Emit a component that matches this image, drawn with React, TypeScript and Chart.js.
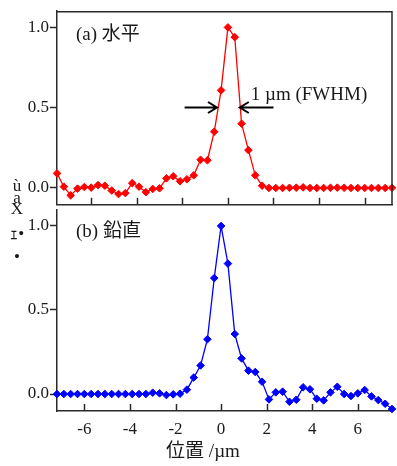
import React, { useEffect, useRef } from "react";
import { Chart, registerables } from "chart.js";

Chart.register(...registerables);

// ---- data ----
const horizontalX = [
  -7.5, -7.2, -6.9, -6.6, -6.3, -6.0, -5.7, -5.4, -5.1, -4.8, -4.5, -4.2, -3.9, -3.6, -3.3, -3.0, -2.7, -2.4,
  -2.1, -1.8, -1.5, -1.2, -0.9, -0.6, -0.3, 0.0, 0.3, 0.6, 0.9, 1.2, 1.5, 1.8, 2.1, 2.4, 2.7, 3.0, 3.3, 3.6,
  3.9, 4.2, 4.5, 4.8, 5.1, 5.4, 5.7, 6.0, 6.3, 6.6, 6.9, 7.2,
];
const horizontalY = [
  0.089, 0.006, -0.048, -0.006, 0.004, 0.0, 0.016, 0.012, -0.018, -0.04, -0.034, 0.028, 0.006, -0.028, -0.008,
  -0.004, 0.058, 0.071, 0.04, 0.052, 0.077, 0.174, 0.171, 0.349, 0.607, 1.0, 0.939, 0.399, 0.234, 0.077, 0.012,
  -0.002, -0.002, -0.002, -0.001, 0.0, 0.002, -0.002, -0.002, -0.002, -0.001, 0.0, -0.001, -0.002, -0.002,
  -0.002, -0.002, -0.002, -0.002, -0.001,
];
const verticalX = [
  -7.2, -6.9, -6.6, -6.3, -6.0, -5.7, -5.4, -5.1, -4.8, -4.5, -4.2, -3.9, -3.6, -3.3, -3.0, -2.7, -2.4, -2.1,
  -1.8, -1.5, -1.2, -0.9, -0.6, -0.3, 0.0, 0.3, 0.6, 0.9, 1.2, 1.5, 1.8, 2.1, 2.4, 2.7, 3.0, 3.3, 3.6, 3.9,
  4.2, 4.5, 4.8, 5.1, 5.4, 5.7, 6.0, 6.3, 6.6, 6.9, 7.2, 7.5,
];
const verticalY = [
  0.0, 0.0, 0.0, 0.0, 0.0, 0.0, 0.0, 0.0, 0.0, 0.0, 0.0, 0.0, 0.0, 0.0, 0.008, 0.004, -0.006, -0.002, 0.002,
  0.026, 0.098, 0.17, 0.326, 0.69, 1.0, 0.776, 0.357, 0.212, 0.139, 0.131, 0.073, -0.032, 0.01, 0.014, -0.046,
  -0.034, 0.04, 0.028, -0.028, -0.038, 0.01, 0.043, 0.0, -0.012, 0.004, 0.024, -0.014, -0.036, -0.058, -0.089,
];
const xTickValues = [-6, -4, -2, 0, 2, 4, 6];
const yTickValues = [0, 0.5, 1.0];
const panelLabelA = "(a) 水平";
const panelLabelB = "(b) 鉛直";
const fwhmLabel = "1 µm (FWHM)";
const fwhmLeftArrow = [-1.9, -0.48];
const fwhmRightArrow = [2.0, 0.52];
const fwhmLevel = 0.5;
const xTitle = "位置 /µm";
const yTitleChars = ["ù", "a", "X", "ｪ•", "•"];

// ---- styles ----
const FONT = "'Liberation Serif', 'Times New Roman', 'Noto Sans CJK JP', serif";
const AXIS = "#2a2a2a";
const TEXT = "#1a1a1a";

function innerTicks(chart: any, scaleId: string) {
  const ctx = chart.ctx;
  const s = chart.scales[scaleId];
  const ca = chart.chartArea;
  ctx.save();
  ctx.strokeStyle = AXIS;
  ctx.lineWidth = 1.5;
  for (const t of s.ticks) {
    const px = Math.round(s.getPixelForValue(t.value)) + 0.5;
    ctx.beginPath();
    ctx.moveTo(px, ca.bottom);
    ctx.lineTo(px, ca.bottom - 7);
    ctx.stroke();
  }
  ctx.restore();
}

function arrow(ctx: any, x0: number, x1: number, y: number) {
  ctx.beginPath();
  ctx.moveTo(x0, y);
  ctx.lineTo(x1, y);
  const dir = x1 > x0 ? 1 : -1;
  ctx.moveTo(x1 - dir * 9, y - 5.5);
  ctx.lineTo(x1, y);
  ctx.lineTo(x1 - dir * 9, y + 5.5);
  ctx.stroke();
}

const topPlugin = {
  id: "topDecor",
  afterDatasetsDraw(chart: any) {
    const ctx = chart.ctx;
    const ca = chart.chartArea;
    const xs = chart.scales.x;
    const ys = chart.scales.y;
    innerTicks(chart, "x");
    ctx.save();
    ctx.strokeStyle = AXIS;
    ctx.lineWidth = 1.5;
    ctx.beginPath();
    ctx.moveTo(ca.left, ca.top + 0.5);
    ctx.lineTo(ca.right, ca.top + 0.5);
    ctx.lineTo(ca.right, ca.bottom);
    ctx.stroke();
    ctx.fillStyle = TEXT;
    ctx.font = `19px ${FONT}`;
    ctx.textBaseline = "middle";
    ctx.textAlign = "left";
    ctx.fillText(panelLabelA, ca.left + 19, ca.top + 24);
    const yp = ys.getPixelForValue(fwhmLevel);
    ctx.strokeStyle = "#000";
    ctx.lineWidth = 2;
    arrow(ctx, xs.getPixelForValue(fwhmLeftArrow[0]), xs.getPixelForValue(fwhmLeftArrow[1]), yp);
    arrow(ctx, xs.getPixelForValue(fwhmRightArrow[0]), xs.getPixelForValue(fwhmRightArrow[1]), yp);
    ctx.fillText(fwhmLabel, xs.getPixelForValue(1.0), yp - 13);
    ctx.restore();
  },
};

const bottomPlugin = {
  id: "bottomDecor",
  afterDatasetsDraw(chart: any) {
    const ctx = chart.ctx;
    const ca = chart.chartArea;
    innerTicks(chart, "x");
    ctx.save();
    ctx.fillStyle = TEXT;
    ctx.font = `19px ${FONT}`;
    ctx.textBaseline = "middle";
    ctx.textAlign = "left";
    ctx.fillText(panelLabelB, ca.left + 19, ca.top + 22);
    ctx.textAlign = "center";
    ctx.font = `19px ${FONT}`;
    ctx.fillText(xTitle, 203, ca.bottom + 41);
    ctx.font = `17px ${FONT}`;
    const ys = [187, 199, 210, 235, 258];
    yTitleChars.forEach((c, i) => {
      ctx.fillText(c, 17, ys[i] - 170);
    });
    ctx.restore();
  },
};

function makeConfig(
  xs: number[],
  vals: number[],
  color: string,
  xMin: number,
  xMax: number,
  yMin: number,
  yMax: number,
  padding: any,
  xHeight: number,
  showXLabels: boolean,
  plugin: any
): any {
  return {
    type: "line",
    data: {
      datasets: [
        {
          data: xs.map((x, i) => ({ x, y: vals[i] })),
          borderColor: color,
          backgroundColor: color,
          borderWidth: 1.3,
          pointStyle: "rectRot",
          pointRadius: 3.8,
          pointBorderWidth: 1,
          pointBorderColor: color,
          pointBackgroundColor: color,
          tension: 0,
          clip: false,
        },
      ],
    },
    options: {
      animation: false,
      responsive: false,
      maintainAspectRatio: false,
      layout: { padding },
      plugins: { legend: { display: false }, tooltip: { enabled: false } },
      scales: {
        x: {
          type: "linear",
          min: xMin,
          max: xMax,
          afterBuildTicks: (s: any) => {
            s.ticks = xTickValues.map((v) => ({ value: v }));
          },
          afterFit: (s: any) => {
            s.height = xHeight;
          },
          ticks: {
            display: showXLabels,
            padding: 8,
            maxRotation: 0,
            autoSkip: false,
            color: TEXT,
            font: { family: FONT, size: 17 },
            callback: (v: any) => String(v),
          },
          grid: { drawOnChartArea: false, drawTicks: false },
          border: { display: true, color: AXIS, width: 1.5 },
        },
        y: {
          type: "linear",
          min: yMin,
          max: yMax,
          afterBuildTicks: (s: any) => {
            s.ticks = yTickValues.map((v) => ({ value: v }));
          },
          afterFit: (s: any) => {
            s.width = 57;
          },
          ticks: {
            padding: 1,
            color: TEXT,
            font: { family: FONT, size: 17 },
            callback: (v: any) => Number(v).toFixed(1),
          },
          grid: { drawOnChartArea: false, drawTicks: true, tickLength: 7, tickColor: AXIS, tickWidth: 1.5 },
          border: { display: true, color: AXIS, width: 1.5 },
        },
      },
    },
    plugins: [plugin],
  };
}

export default function App() {
  const topRef = useRef<HTMLCanvasElement>(null);
  const botRef = useRef<HTMLCanvasElement>(null);

  useEffect(() => {
    const a = new Chart(
      topRef.current as HTMLCanvasElement,
      makeConfig(horizontalX, horizontalY, "#ff0000", -7.5, 7.2, -0.107, 1.101, { top: 7, right: 2, bottom: 6, left: 0 }, 0, false, topPlugin)
    );
    const b = new Chart(
      botRef.current as HTMLCanvasElement,
      makeConfig(verticalX, verticalY, "#0000ff", -7.2, 7.5, -0.101, 1.095, { top: 40, right: 2, bottom: 0, left: 0 }, 55, true, bottomPlugin)
    );
    return () => {
      a.destroy();
      b.destroy();
    };
  }, []);

  return (
    <div style={{ position: "fixed", left: 0, top: 0, width: 397, height: 466, background: "#fff" }}>
      <canvas ref={topRef} width={397} height={216} style={{ position: "absolute", left: 0, top: 0, width: 397, height: 216 }} />
      <canvas ref={botRef} width={397} height={296} style={{ position: "absolute", left: 0, top: 170, width: 397, height: 296 }} />
    </div>
  );
}
